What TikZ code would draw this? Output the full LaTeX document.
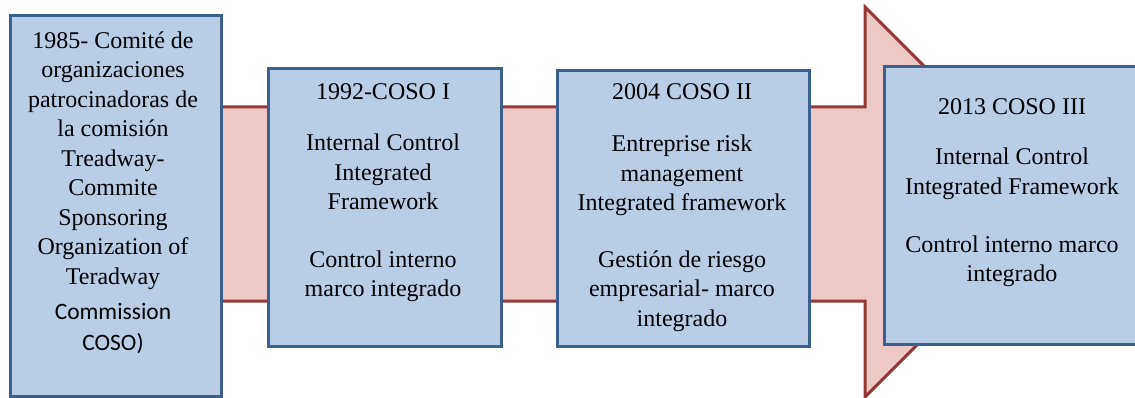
\documentclass[tikz,border=0pt]{standalone}
\usepackage{fontspec}
\setmainfont{Liberation Serif}
\newfontfamily\calfont{Carlito}
\definecolor{boxfill}{RGB}{185,205,229}
\definecolor{boxline}{RGB}{60,96,142}
\definecolor{arrfill}{RGB}{236,200,199}
\definecolor{arrline}{RGB}{149,55,53}
\tikzset{
  stagebox/.style={draw=boxline, fill=boxfill, line width=3pt, anchor=north west, inner sep=0pt},
  txt/.style={anchor=base, align=center, inner sep=0pt, font=\fontsize{24}{29.5}\selectfont},
  stxt/.style={anchor=base, inner sep=0pt, font=\calfont\fontsize{23.5}{31}\selectfont},
}
\begin{document}
\begin{tikzpicture}[x=1pt,y=-1pt]
\useasboundingbox (0,0) rectangle (1135,398);
\clip (0,0) rectangle (1135,398);
% big arrow
\draw[draw=arrline, fill=arrfill, line width=3pt, line join=miter]
  (100,107) -- (865,107) -- (865,7) -- (1060,202) -- (865,397) -- (865,301) -- (100,301) -- cycle;
% boxes
\node[stagebox, minimum width=211pt, minimum height=381pt] (b1) at (9,14) {};
\node[stagebox, minimum width=233pt, minimum height=278pt] (b2) at (267,67) {};
\node[stagebox, minimum width=252pt, minimum height=276pt] (b3) at (556,69) {};
\node[stagebox, minimum width=260pt, minimum height=278pt] (b4) at (883,65) {};
% box 1 text (anchor = baseline of last line)
\node[txt] (t1a) at (113,284) {1985- Comité de\\organizaciones\\patrocinadoras de\\la comisión\\Treadway-\\Commite\\Sponsoring\\Organization of\\Teradway};
\node[stxt] (t1b) at (113,319) {Commission};
\node[stxt] (t1c) at (113,350) {COSO)};
% box 2 text
\node[txt] (t2a) at (383,99.5) {1992-COSO I};
\node[txt] (t2b) at (383,210) {Internal Control\\Integrated\\Framework};
\node[txt] (t2c) at (383,296.5) {Control interno\\marco integrado};
% box 3 text
\node[txt] (t3a) at (682,99.5) {2004 COSO II};
\node[txt] (t3b) at (682,211) {Entreprise risk\\management\\Integrated framework};
\node[txt] (t3c) at (682,326) {Gestión de riesgo\\empresarial- marco\\integrado};
% box 4 text
\node[txt] (t4a) at (1012,114.5) {2013 COSO III};
\node[txt] (t4b) at (1012,194.5) {Internal Control\\Integrated Framework};
\node[txt] (t4c) at (1012,281.5) {Control interno marco\\integrado};
\end{tikzpicture}
\end{document}
